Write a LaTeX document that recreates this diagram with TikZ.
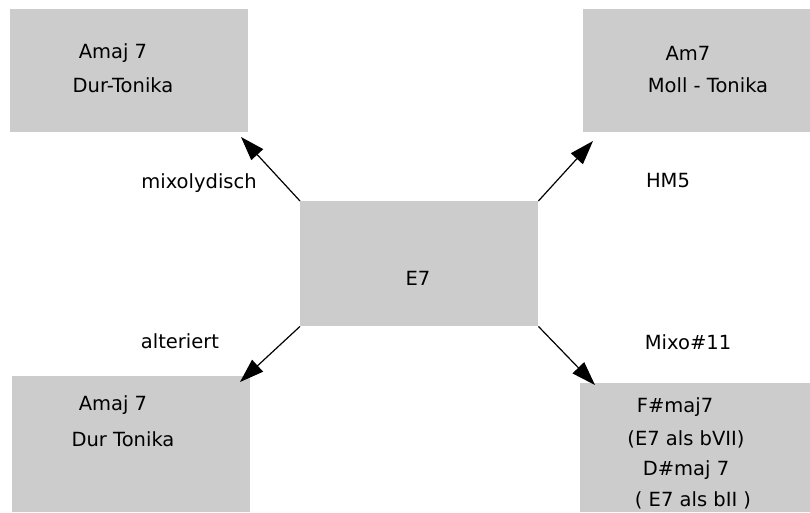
\documentclass[tikz,border=0pt]{standalone}
\usepackage{fontspec}
\setmainfont{DejaVu Sans}
\usetikzlibrary{arrows.meta}
\definecolor{boxgray}{HTML}{CCCCCC}
\tikzset{
  box/.style={fill=boxgray, draw=none, anchor=north west, inner sep=0pt},
  txt/.style={font=\fontsize{19.5}{23}\selectfont, text=black, inner sep=0pt},
  conn/.style={draw=black, line width=1.2pt, -{Triangle[length=24pt,width=16pt]}}
}
\begin{document}
\begin{tikzpicture}[x=1pt,y=-1pt]
\useasboundingbox (0,0) rectangle (810,512);
% boxes
\node[box, minimum width=238pt, minimum height=123pt] (tl) at (10,9) {};
\node[box, minimum width=227pt, minimum height=123pt] (tr) at (583,9) {};
\node[box, minimum width=238pt, minimum height=125pt] (c) at (300,201) {};
\node[box, minimum width=238pt, minimum height=136pt] (bl) at (12,376) {};
\node[box, minimum width=230pt, minimum height=129pt] (br) at (580,383) {};
% texts
\node[txt] (tl1) at (113,53) {Amaj 7};
\node[txt] (tl2) at (123,85) {Dur-Tonika};
\node[txt] (tr1) at (688,53) {Am7};
\node[txt] (tr2) at (708,85) {Moll - Tonika};
\node[txt] (c1) at (418,278) {E7};
\node[txt] (bl1) at (113,405) {Amaj 7};
\node[txt] (bl2) at (123,439) {Dur Tonika};
\node[txt] (br1) at (675,407) {F\#maj7};
\node[txt] (br2) at (686,439) {(E7 als bVII)};
\node[txt] (br3) at (686,470) {D\#maj 7};
\node[txt] (br4) at (693,500) {( E7 als bII )};
% labels
\node[txt] (l1) at (199,183) {mixolydisch};
\node[txt] (l2) at (668,181) {HM5};
\node[txt] (l3) at (180,341) {alteriert};
\node[txt] (l4) at (688,342) {Mixo\#11};
% tips
\coordinate (ttl) at (241,137);
\coordinate (ttr) at (593,141);
\coordinate (tbl) at (240,382);
\coordinate (tbr) at (595,385);
\draw[conn] (c.north west) -- (ttl);
\draw[conn] (c.north east) -- (ttr);
\draw[conn] (c.south west) -- (tbl);
\draw[conn] (c.south east) -- (tbr);
\end{tikzpicture}
\end{document}
